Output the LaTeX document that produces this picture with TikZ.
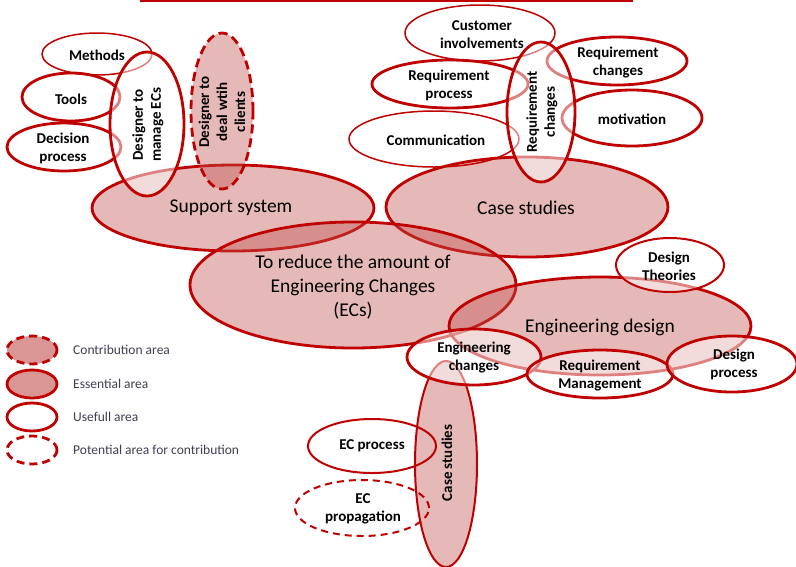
\documentclass[tikz,border=0pt]{standalone}
\usepackage{fontspec}
\setmainfont{Carlito}
\usetikzlibrary{shapes.geometric}
\definecolor{dred}{HTML}{C00000}
\definecolor{pinkfill}{HTML}{C0504D}
\definecolor{legfill}{HTML}{D99694}
\definecolor{legtext}{HTML}{3F3F55}
\begin{document}
\begin{tikzpicture}[x=1pt,y=-1pt,
  area/.style={ellipse, draw=dred, inner sep=0pt, line width=2.8pt},
  thinarea/.style={area, line width=1.5pt},
  medarea/.style={area, line width=2pt},
  pinkarea/.style={fill=pinkfill, fill opacity=0.4},
  whitearea/.style={fill=white, fill opacity=0.5},
  dashedarea/.style={dash pattern=on 9pt off 5pt},
  lbl/.style={font=\fontsize{15}{18}\selectfont\bfseries, align=center, inner sep=0pt},
  big/.style={font=\fontsize{19.5}{24}\selectfont, align=center, inner sep=0pt},
  legtxt/.style={font=\fontsize{13.5}{16}\selectfont, text=legtext, anchor=west, inner sep=0pt}]
\useasboundingbox (0,0) rectangle (796,566);
\fill[white] (0,0) rectangle (796,566);
% top rule
\coordinate (tl) at (140,0.8);
\coordinate (tr) at (633,0.8);
\draw[dred, line width=2pt] (tl) -- (tr);

% left group
\node[thinarea, minimum width=110, minimum height=42] (methods) at (97,54) {};
\node[area, minimum width=98, minimum height=48] (tools) at (71,97) {};
\node[area, minimum width=114, minimum height=48] (decision) at (64,147) {};
\node[area, pinkarea, minimum width=282, minimum height=86] (support) at (233,208) {};
\node[area, pinkarea, dashedarea, minimum width=62, minimum height=156] (clients) at (222,111) {};
\node[area, whitearea, minimum width=74, minimum height=144] (manage) at (147,124) {};

% central
\node[area, pinkarea, minimum width=282, minimum height=100] (casetop) at (527,207) {};
\node[area, pinkarea, minimum width=326, minimum height=126] (reduce) at (353,285) {};
\node[area, pinkarea, minimum width=302, minimum height=98] (engdesign) at (600,326) {};

% top right group
\node[thinarea, minimum width=150, minimum height=56] (customer) at (480,33) {};
\node[area, minimum width=156, minimum height=48] (reqproc) at (450,84) {};
\node[thinarea, minimum width=170, minimum height=56] (comm) at (434,139) {};
\node[area, minimum width=140, minimum height=48] (reqchr) at (617,61) {};
\node[area, minimum width=140, minimum height=56] (motiv) at (632,118) {};
\node[area, whitearea, minimum width=68, minimum height=140] (reqchv) at (541,112) {};

% bottom right group
\node[medarea, pinkarea, minimum width=62, minimum height=206] (casebot) at (446,464) {};
\node[medarea, whitearea, minimum width=108, minimum height=54] (theories) at (670,265) {};
\node[area, whitearea, minimum width=134, minimum height=56] (engch) at (474,357) {};
\node[area, whitearea, minimum width=146, minimum height=48] (reqmgmt) at (600,374) {};
\node[area, whitearea, minimum width=130, minimum height=56] (desproc) at (732,364) {};
\node[medarea, minimum width=128, minimum height=54] (ecproc) at (372,446) {};
\node[medarea, dashedarea, dash pattern=on 7pt off 5pt, minimum width=134, minimum height=56] (ecprop) at (362,508) {};

% legend
\node[area, fill=legfill, dashedarea, dash pattern=on 8pt off 5pt, minimum width=50, minimum height=28] (legc) at (32,350) {};
\node[area, fill=legfill, minimum width=50, minimum height=28] (lege) at (32,384) {};
\node[area, fill=white, minimum width=50, minimum height=28] (legu) at (32,417) {};
\node[area, dash pattern=on 8pt off 5pt, minimum width=50, minimum height=28] (legp) at (32,450) {};
\node[legtxt] (tlegc) at (73,350) {Contribution area};
\node[legtxt] (tlege) at (73,384) {Essential area};
\node[legtxt] (tlegu) at (73,417) {Usefull area};
\node[legtxt] (tlegp) at (73,450) {Potential area for contribution};

% labels
\node[lbl] (tmethods) at (97,55) {Methods};
\node[lbl] (ttools) at (71,99) {Tools};
\node[lbl] (tdecision) at (63,148) {Decision\\process};
\node[lbl, rotate=90] (tmanage) at (148,125) {Designer to\\manage ECs};
\node[lbl, rotate=90] (tclients) at (222,112) {Designer to\\deal wtih\\clients};
\node[big] (tsupport) at (231,208) {Support system};
\node[lbl] (tcustomer) at (482,35) {Customer\\involvements};
\node[lbl] (treqproc) at (449,85) {Requirement\\process};
\node[lbl] (tcomm) at (436,140) {Communication};
\node[lbl, rotate=90] (treqchv) at (542,112) {Requirement\\changes};
\node[lbl] (treqchr) at (618,63) {Requirement\\changes};
\node[lbl] (tmotiv) at (632,119) {motivation};
\node[big] (tcasetop) at (526,208) {Case studies};
\node[big] (treduce) at (353,287) {To reduce the amount of\\Engineering Changes\\(ECs)};
\node[lbl] (ttheories) at (669,266) {Design\\Theories};
\node[big] (tengdesign) at (600,327) {Engineering design};
\node[lbl] (tengch) at (474,358) {Engineering\\changes};
\node[lbl] (treqmgmt) at (600,376) {Requirement\\Management};
\node[lbl] (tdesproc) at (734,364) {Design\\process};
\node[lbl, rotate=90] (tcasebot) at (447,463) {Case studies};
\node[lbl] (tecproc) at (372,446) {EC process};
\node[lbl] (tecprop) at (363,509) {EC\\propagation};
\end{tikzpicture}
\end{document}
